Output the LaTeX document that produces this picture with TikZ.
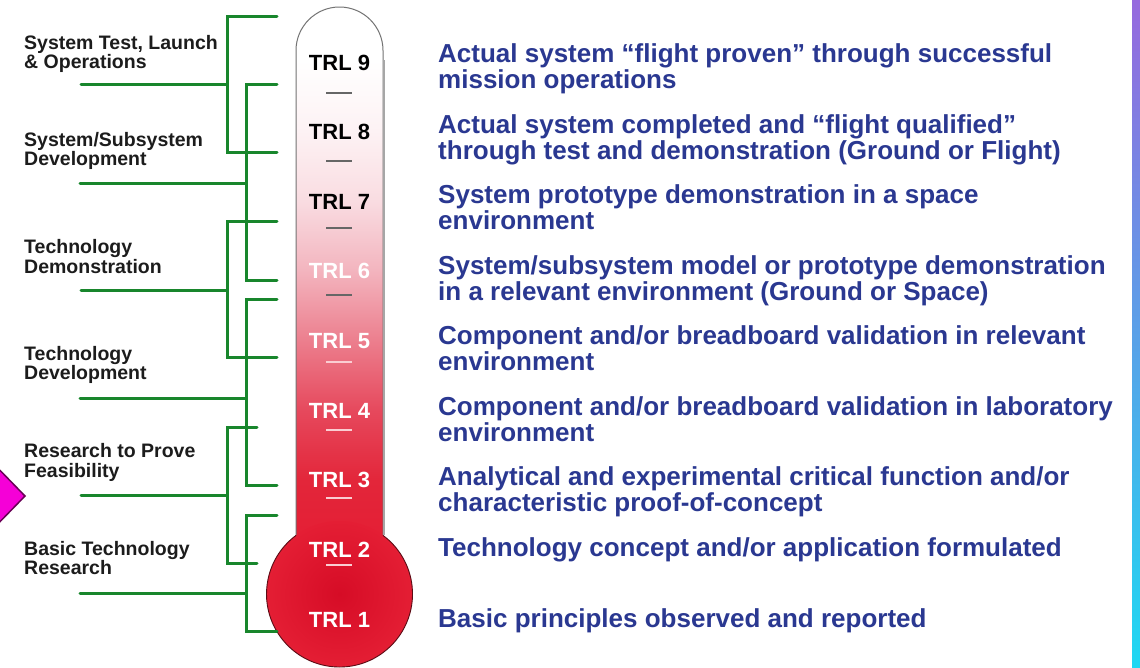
\documentclass[tikz,border=0pt]{standalone}
\usepackage{fontspec}
\setmainfont{Liberation Sans}
\definecolor{brgreen}{RGB}{24,134,44}
\definecolor{desccol}{RGB}{42,56,145}
\definecolor{labcol}{RGB}{28,28,28}
\definecolor{thred}{RGB}{228,30,52}
\definecolor{thdark}{RGB}{214,12,38}
\definecolor{tA}{RGB}{253,242,244}
\definecolor{tB}{RGB}{249,220,225}
\definecolor{tC}{RGB}{243,180,190}
\definecolor{tD}{RGB}{236,126,141}
\definecolor{tE}{RGB}{230,72,92}
\definecolor{tF}{RGB}{227,38,58}
\definecolor{barTop}{RGB}{150,105,222}
\definecolor{barBot}{RGB}{30,216,242}
\definecolor{magfill}{RGB}{245,0,215}
\definecolor{magline}{RGB}{105,0,85}
\definecolor{ticklight}{RGB}{250,205,210}
\tikzset{
  bracket/.style={draw=brgreen, line width=3pt, line cap=round, line join=miter},
  lvl/.style={font=\fontsize{22}{22}\selectfont\bfseries, anchor=base, inner sep=0pt},
  desc/.style={font=\fontsize{26}{26}\selectfont\bfseries, text=desccol, anchor=base west, inner sep=0pt},
  lab/.style={font=\fontsize{19.5}{19}\selectfont\bfseries, text=labcol, anchor=base west, inner sep=0pt},
  tickdark/.style={draw=black!60, line width=1.3pt},
  ticklite/.style={draw=ticklight, line width=1.3pt}
}
\begin{document}
\begin{tikzpicture}[x=1pt,y=-1pt]
\useasboundingbox (0,0) rectangle (1140,667);
\clip (0,0) rectangle (1140,667);
\fill[white] (0,0) rectangle (1140,667);

% ---- thermometer tube ----
\begin{scope}
  \clip (296,545) -- (296,50.5) arc[start angle=180, end angle=360, radius=43.5] -- (383,545) -- cycle;
  \fill[white] (290,0) rectangle (390,61);
  \shade[top color=white, bottom color=tA] (290,60) rectangle (390,131.5);
  \shade[top color=tA, bottom color=tB] (290,131) rectangle (390,201.5);
  \shade[top color=tB, bottom color=tC] (290,201) rectangle (390,271.5);
  \shade[top color=tC, bottom color=tD] (290,271) rectangle (390,341.5);
  \shade[top color=tD, bottom color=tE] (290,341) rectangle (390,411.5);
  \shade[top color=tE, bottom color=tF] (290,411) rectangle (390,480.5);
  \shade[top color=tF, bottom color=thred] (290,480) rectangle (390,546);
\end{scope}
\draw[black!55, line width=1pt] (296,535.4) -- (296,50.5) arc[start angle=180, end angle=360, radius=43.5] -- (383,535.4);
\draw[black!35, line width=1.2pt] (384,60) -- (384,535);
% ---- bulb ----
\shade[inner color=thdark, outer color=thred] (339.5,594) circle[radius=73];
\draw[black!60!thred, line width=0.9pt] (296,535.4) arc[start angle=233.4, end angle=-53.4, radius=73];

% ---- ticks ----
\foreach \ty in {93,161,228,295} \draw[tickdark] (326,\ty) -- (352,\ty);
\foreach \ty in {362,430,498,565} \draw[ticklite] (326,\ty) -- (352,\ty);

% ---- TRL labels ----
\node[lvl, text=black] (t9) at (339.5,70) {TRL 9};
\node[lvl, text=black] (t8) at (339.5,139.5) {TRL 8};
\node[lvl, text=black] (t7) at (339.5,209) {TRL 7};
\node[lvl, text=white] (t6) at (339.5,278.5) {TRL 6};
\node[lvl, text=white] (t5) at (339.5,348) {TRL 5};
\node[lvl, text=white] (t4) at (339.5,418) {TRL 4};
\node[lvl, text=white] (t3) at (339.5,487) {TRL 3};
\node[lvl, text=white] (t2) at (339.5,557) {TRL 2};
\node[lvl, text=white] (t1) at (339.5,627) {TRL 1};

% ---- descriptions ----
\node[desc] (d9a) at (438,62.5) {Actual system “flight proven” through successful};
\node[desc] (d9b) at (438,88.5) {mission operations};
\node[desc] (d8a) at (438,133) {Actual system completed and “flight qualified”};
\node[desc] (d8b) at (438,159) {through test and demonstration (Ground or Flight)};
\node[desc] (d7a) at (438,203.5) {System prototype demonstration in a space};
\node[desc] (d7b) at (438,229.5) {environment};
\node[desc] (d6a) at (438,274) {System/subsystem model or prototype demonstration};
\node[desc] (d6b) at (438,300) {in a relevant environment (Ground or Space)};
\node[desc] (d5a) at (438,344.5) {Component and/or breadboard validation in relevant};
\node[desc] (d5b) at (438,370.5) {environment};
\node[desc] (d4a) at (438,415) {Component and/or breadboard validation in laboratory};
\node[desc] (d4b) at (438,441) {environment};
\node[desc] (d3a) at (438,485.5) {Analytical and experimental critical function and/or};
\node[desc] (d3b) at (438,511.5) {characteristic proof-of-concept};
\node[desc] (d2a) at (438,556) {Technology concept and/or application formulated};
\node[desc] (d1a) at (438,627) {Basic principles observed and reported};

% ---- phase labels ----
\node[lab] (p1a) at (24,49.5) {System Test, Launch};
\node[lab] (p1b) at (24,68.5) {\& Operations};
\node[lab] (p2a) at (24,146) {System/Subsystem};
\node[lab] (p2b) at (24,165) {Development};
\node[lab] (p3a) at (24,253.5) {Technology};
\node[lab] (p3b) at (24,273) {Demonstration};
\node[lab] (p4a) at (24,360) {Technology};
\node[lab] (p4b) at (24,379.5) {Development};
\node[lab] (p5a) at (24,457.5) {Research to Prove};
\node[lab] (p5b) at (24,477) {Feasibility};
\node[lab] (p6a) at (24,555) {Basic Technology};
\node[lab] (p6b) at (24,574.5) {Research};

% ---- brackets ----
\coordinate (b1top) at (277,16);   \coordinate (b1bot) at (277,152);
\coordinate (b1arm) at (81,84);    \coordinate (b1v) at (227,84);
\coordinate (b2top) at (277,84);   \coordinate (b2bot) at (277,280);
\coordinate (b2arm) at (80,183);   \coordinate (b2v) at (246,183);
\coordinate (b3top) at (277,221);  \coordinate (b3bot) at (277,357);
\coordinate (b3arm) at (81,290);   \coordinate (b3v) at (227,290);
\coordinate (b4top) at (277,299);  \coordinate (b4bot) at (277,485);
\coordinate (b4arm) at (80,398);   \coordinate (b4v) at (246,398);
\coordinate (b5top) at (257,427);  \coordinate (b5bot) at (257,563);
\coordinate (b5arm) at (81,495);   \coordinate (b5v) at (227,495);
\coordinate (b6top) at (277,515);  \coordinate (b6bot) at (277,631);
\coordinate (b6arm) at (80,593);   \coordinate (b6v) at (246,593);
\foreach \b in {b1,b2,b3,b4,b5,b6}{
  \draw[bracket] (\b top) -| (\b v) |- (\b bot);
  \draw[bracket] (\b arm) -- (\b v);
}

% ---- right bar and left marker ----
\shade[top color=barTop, bottom color=barBot] (1132,0) rectangle (1140,667);
\draw[fill=magfill, draw=magline, line width=1.5pt] (-12,458) -- (25,496) -- (-12,534) -- cycle;
\end{tikzpicture}
\end{document}
